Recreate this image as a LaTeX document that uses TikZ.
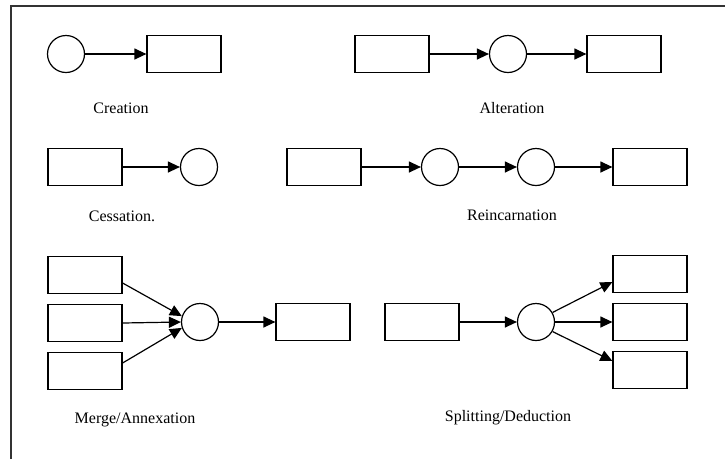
\documentclass[tikz,border=0pt]{standalone}
\usepackage{fontspec}
\setmainfont{Liberation Serif}
\usetikzlibrary{arrows.meta}
\begin{document}
\begin{tikzpicture}[x=1pt,y=-1pt,
  box/.style={draw, line width=1.2pt, minimum width=74pt, minimum height=37pt, inner sep=0pt},
  circ/.style={draw, line width=1.2pt, circle, minimum size=37pt, inner sep=0pt},
  lbl/.style={font=\fontsize{16}{19}\selectfont, inner sep=0pt},
  conn/.style={line width=1.2pt, -{Triangle[length=12pt,width=11pt]}},
  frameline/.style={line width=1.5pt, draw=black!80}]
\useasboundingbox (0,0) rectangle (725,459);
\coordinate (f0) at (11,459);
\coordinate (f1) at (11,6);
\coordinate (f2) at (725,6);
\draw[frameline] (f0) -- (f1) -- (f2);
% Creation
\node[circ] (cr1) at (66,54) {};
\node[box] (cr2) at (184,54) {};
\draw[conn] (cr1) -- (cr2);
\node[lbl] (crl) at (121,108) {Creation};
% Alteration
\node[box] (al1) at (392,54) {};
\node[circ] (al2) at (508,54) {};
\node[box] (al3) at (624,54) {};
\draw[conn] (al1) -- (al2);
\draw[conn] (al2) -- (al3);
\node[lbl] (all) at (512,108) {Alteration};
% Cessation
\node[box] (ce1) at (85,167) {};
\node[circ] (ce2) at (199,167) {};
\draw[conn] (ce1) -- (ce2);
\node[lbl] (cel) at (122,216) {Cessation.};
% Reincarnation
\node[box] (re1) at (324,167) {};
\node[circ] (re2) at (440,167) {};
\node[circ] (re3) at (536,167) {};
\node[box] (re4) at (650,167) {};
\draw[conn] (re1) -- (re2);
\draw[conn] (re2) -- (re3);
\draw[conn] (re3) -- (re4);
\node[lbl] (rel) at (512,215) {Reincarnation};
% Merge/Annexation
\node[box] (me1) at (85,275) {};
\node[box] (me2) at (85,323) {};
\node[box] (me3) at (85,371) {};
\node[circ] (mec) at (200,322) {};
\node[box] (me4) at (313,322) {};
\draw[conn] (me1.east |- 0,283) -- (mec.162);
\draw[conn] (me2.east) -- (mec.west);
\draw[conn] (me3.east |- 0,363) -- (mec.198);
\draw[conn] (mec) -- (me4);
\node[lbl] (mel) at (135,420) {Merge/Annexation};
% Splitting/Deduction
\node[box] (sp1) at (422,322) {};
\node[circ] (spc) at (536,322) {};
\node[box] (sp2) at (650,274) {};
\node[box] (sp3) at (650,322) {};
\node[box] (sp4) at (650,370) {};
\draw[conn] (sp1) -- (spc);
\draw[conn] (spc.30) -- (sp2.west |- 0,282);
\draw[conn] (spc.east) -- (sp3.west);
\draw[conn] (spc.-30) -- (sp4.west |- 0,361);
\node[lbl] (spl) at (508,418) {Splitting/Deduction};
\end{tikzpicture}
\end{document}
